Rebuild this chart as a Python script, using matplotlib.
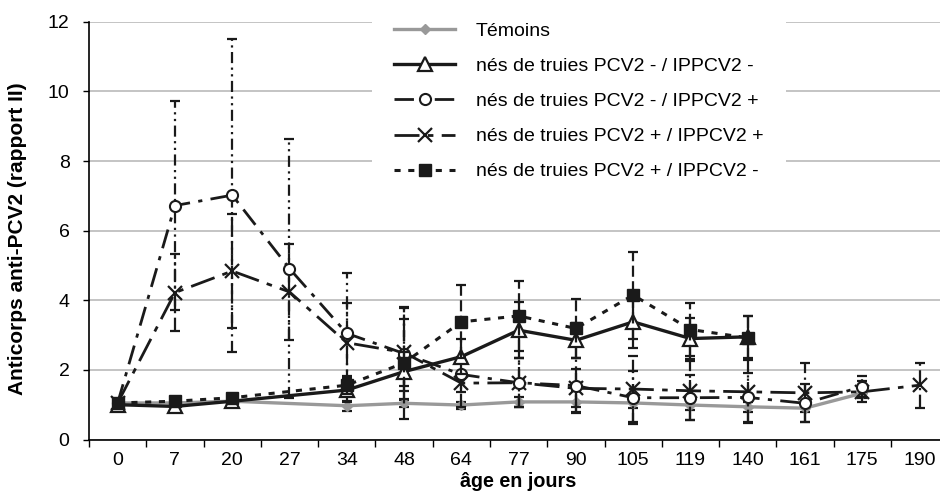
import matplotlib
matplotlib.use('Agg')

import matplotlib.pyplot as plt
import numpy as np

plt.rcParams['font.family'] = ['Liberation Sans', 'DejaVu Sans']

ages = ['0', '7', '20', '27', '34', '48', '64', '77', '90', '105', '119', '140', '161', '175', '190']

labels = ['Témoins',
          'nés de truies PCV2 - / IPPCV2 -',
          'nés de truies PCV2 - / IPPCV2 +',
          'nés de truies PCV2 + / IPPCV2 +',
          'nés de truies PCV2 + / IPPCV2 -']

# None = pas de mesure
temoins = [1.05, 1.05, 1.1, None, 0.97, 1.04, 0.99, 1.08, 1.08, 1.05, 0.99, 0.94, 0.9, 1.33, None]
temoins_sd = [0, 0, 0, None, 0.15, 0.1, 0.1, 0.15, 0.3, 0.15, 0.15, 0.15, 0.12, 0.15, None]

neg_neg = [1.0, 0.95, 1.1, None, 1.42, 1.95, 2.38, 3.14, 2.85, 3.38, 2.9, 2.95, None, None, None]
neg_neg_sd = [0, 0, 0, None, 0.35, 0.55, 0.5, 0.8, 0.5, 0.75, 0.6, 0.6, None, None, None]

neg_pos = [1.05, 6.72, 7.02, 4.91, 3.05, 2.47, 1.87, 1.63, 1.55, 1.2, 1.2, 1.21, 1.04, 1.52, None]
neg_pos_sd = [0, 3.0, 4.5, 3.73, 1.74, 1.3, 0.5, 0.7, 0.8, 0.76, 0.65, 0.7, 0.55, 0.3, None]

pos_pos = [1.05, 4.22, 4.84, 4.24, 2.78, 2.5, 1.62, 1.63, 1.47, 1.45, 1.4, 1.37, 1.34, 1.37, 1.56]
pos_pos_sd = [0, 1.1, 1.65, 1.37, 1.15, 0.95, 0.7, 0.7, 0.55, 0.95, 0.85, 0.9, 0.85, 0.3, 0.65]

pos_neg = [1.05, 1.1, 1.2, None, 1.56, 2.2, 3.38, 3.55, 3.19, 4.15, 3.16, 2.92, None, None, None]
pos_neg_sd = [0, 0, 0, None, 0.25, 1.6, 1.05, 1.0, 0.85, 1.25, 0.75, 0.62, None, None, None]

fig = plt.figure(figsize=(9.4, 4.92), dpi=100)
ax = fig.add_axes([0.0947, 0.1067, 0.914, 0.849])


def draw(vals, sds, label, line_kw, err_ls, z):
    x = np.array([i for i, v in enumerate(vals) if v is not None])
    y = np.array([v for v in vals if v is not None], dtype=float)
    e = np.array([s for s in sds if s is not None], dtype=float)
    ln, = ax.plot(x, y, label=label, zorder=z, **line_kw)
    m = e > 0
    _, caps, bars = ax.errorbar(x[m], y[m], yerr=e[m], fmt='none', ecolor='#1a1a1a',
                                elinewidth=1.6, capsize=3.5, capthick=1.6, zorder=z - 0.5)
    bars[0].set_linestyle(err_ls)
    return ln


h = []
h.append(draw(temoins, temoins_sd, labels[0],
              dict(color='#999999', lw=2.4, marker='D', ms=5, mfc='#999999', mec='#999999'),
              '-', 3))
h.append(draw(neg_neg, neg_neg_sd, labels[1],
              dict(color='#1a1a1a', lw=2.4, marker='^', ms=10, mfc='white', mec='#1a1a1a', mew=1.6),
              '-', 6))
h.append(draw(neg_pos, neg_pos_sd, labels[2],
              dict(color='#1a1a1a', lw=2.0, ls=(0, (7, 3, 1.5, 3)), marker='o', ms=8, mfc='white',
                   mec='#1a1a1a', mew=1.5),
              (0, (5, 2, 1, 2, 1, 2)), 5))
h.append(draw(pos_pos, pos_pos_sd, labels[3],
              dict(color='#1a1a1a', lw=2.0, ls=(0, (9, 3, 2, 3)), marker='x', ms=10, mew=1.6),
              (0, (6, 2, 1, 2)), 4))
h.append(draw(pos_neg, pos_neg_sd, labels[4],
              dict(color='#1a1a1a', lw=2.2, ls=(0, (2, 2.5)), marker='s', ms=9, mfc='#1a1a1a',
                   mec='#1a1a1a'),
              (0, (5, 2)), 7))

ax.set_xlim(-0.5, len(ages) - 0.5)
ax.set_ylim(0, 12)
ax.set_yticks(np.arange(0, 13, 2))
ax.set_xticks(np.arange(len(ages)))
ax.set_xticklabels(ages)
ax.set_xticks(np.arange(len(ages) + 1) - 0.5, minor=True)
ax.tick_params(axis='x', which='major', length=0, labelsize=14, pad=9)
ax.tick_params(axis='x', which='minor', length=5, width=1)
ax.tick_params(axis='y', length=4, width=1, labelsize=14, pad=10)

for s in ['top', 'right']:
    ax.spines[s].set_visible(False)
ax.spines['left'].set_linewidth(1.2)
ax.spines['bottom'].set_linewidth(1.2)

ax.yaxis.grid(True, color='#c4c4c4', lw=1.4)
ax.set_axisbelow(True)

ax.set_xlabel('âge en jours', fontsize=14.2, fontweight='bold', labelpad=2)
ax.set_ylabel('Anticorps anti-PCV2 (rapport II)', fontsize=15, fontweight='bold', labelpad=10)
ax.yaxis.set_label_coords(-0.072, 0.48)

leg = ax.legend(handles=h, loc='upper left', bbox_to_anchor=(372 / 940, 1.0),
                bbox_transform=fig.transFigure, fontsize=14, frameon=True,
                facecolor='white', edgecolor='none', framealpha=1, fancybox=False,
                handlelength=3.1, handletextpad=1.1, labelspacing=0.9, numpoints=1,
                borderpad=1.15, borderaxespad=0)
leg.set_zorder(10)

fig.savefig('out.png', dpi=100)
